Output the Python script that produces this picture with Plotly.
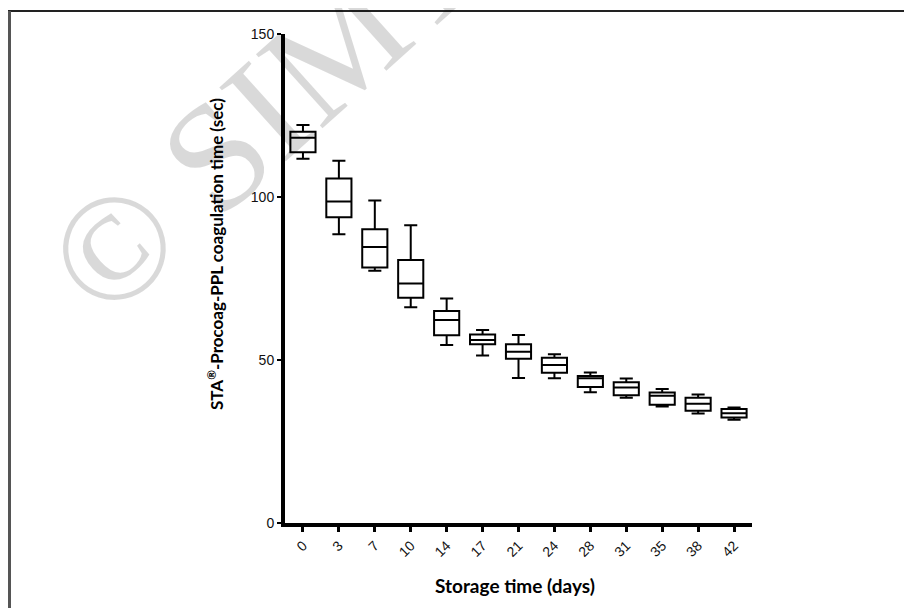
import plotly.graph_objects as go

days = ["0", "3", "7", "10", "14", "17", "21", "24", "28", "31", "35", "38", "42"]
lower = [111.7, 88.6, 77.4, 66.2, 54.6, 51.4, 44.5, 44.4, 40.1, 38.4, 35.7, 33.6, 31.7]
q1 = [113.7, 93.8, 78.4, 69.1, 57.6, 54.8, 50.4, 46.1, 41.7, 39.2, 36.3, 34.4, 32.4]
median = [118.2, 98.6, 84.7, 73.5, 62.3, 56.1, 52.5, 48.5, 44.4, 41.6, 39.0, 36.6, 33.7]
q3 = [120.0, 105.7, 90.1, 80.7, 65.0, 57.8, 54.8, 50.7, 45.1, 43.2, 40.0, 38.4, 35.0]
upper = [122.1, 111.1, 98.9, 91.3, 68.9, 59.2, 57.7, 51.8, 46.2, 44.3, 41.1, 39.4, 35.4]
y_ticks = [0, 50, 100, 150]

# page body has an 8px margin, so the figure is drawn 8px in from the window edge
OFF = 8
W, H = 912 - OFF, 608 - OFF
L, T = 285 - OFF, 34 - OFF
R = W - (752 - OFF)
B = H - (523 - OFF)
pw, ph = W - L - R, H - T - B


def px(x):
    return (x - OFF - L) / pw


def py(y):
    return (H - B - (y - OFF)) / ph


fig = go.Figure()
fig.add_trace(go.Box(
    x=days, q1=q1, median=median, q3=q3, lowerfence=lower, upperfence=upper,
    fillcolor="white", line=dict(color="black", width=2),
    width=0.7, whiskerwidth=0.52, boxpoints=False, hoverinfo="skip",
))

tick_font = dict(family="Liberation Sans Narrow, Arial Narrow, Liberation Sans, Arial", size=14, color="#111")
fig.update_layout(
    width=W, height=H,
    margin=dict(l=L, r=R, t=T, b=B),
    paper_bgcolor="white", plot_bgcolor="white",
    showlegend=False,
    xaxis=dict(
        type="category", range=[-0.5, 12.5], showgrid=False, zeroline=False,
        showline=True, linecolor="black", linewidth=4,
        ticks="outside", ticklen=5, tickwidth=3, tickcolor="black",
        tickangle=-45, tickfont=tick_font,
    ),
    yaxis=dict(
        range=[0, 150], tickvals=y_ticks, showgrid=False, zeroline=False,
        showline=True, linecolor="black", linewidth=4,
        ticks="outside", ticklen=4, tickwidth=2, tickcolor="black",
        tickfont=tick_font,
    ),
    annotations=[
        dict(text="© SIMTI", xref="paper", yref="paper", x=px(281), y=py(97),
             xanchor="center", yanchor="middle",
             showarrow=False, textangle=-42,
             font=dict(family="Liberation Serif, Times New Roman, serif", size=152,
                       color="rgba(0,0,0,0.15)")),
        dict(text="STA<sup>®</sup>-Procoag-PPL coagulation time (sec)", xref="paper", yref="paper",
             x=px(215), y=py(254), xanchor="center", yanchor="middle",
             showarrow=False, textangle=-90,
             font=dict(family="Lato, Open Sans, sans-serif", size=17, color="black", weight="bold")),
        dict(text="Storage time (days)", xref="paper", yref="paper",
             x=px(515), y=py(585), xanchor="center", yanchor="middle", showarrow=False,
             font=dict(family="Lato, Open Sans, sans-serif", size=19, color="black", weight="bold")),
    ],
    shapes=[
        dict(type="line", xref="paper", yref="paper", x0=px(8), x1=px(912), y0=py(11), y1=py(11),
             line=dict(color="#222", width=2)),
        dict(type="line", xref="paper", yref="paper", x0=px(9.5), x1=px(9.5), y0=py(11), y1=py(610),
             line=dict(color="#555", width=3)),
    ],
)

fig.write_html("out.html")
